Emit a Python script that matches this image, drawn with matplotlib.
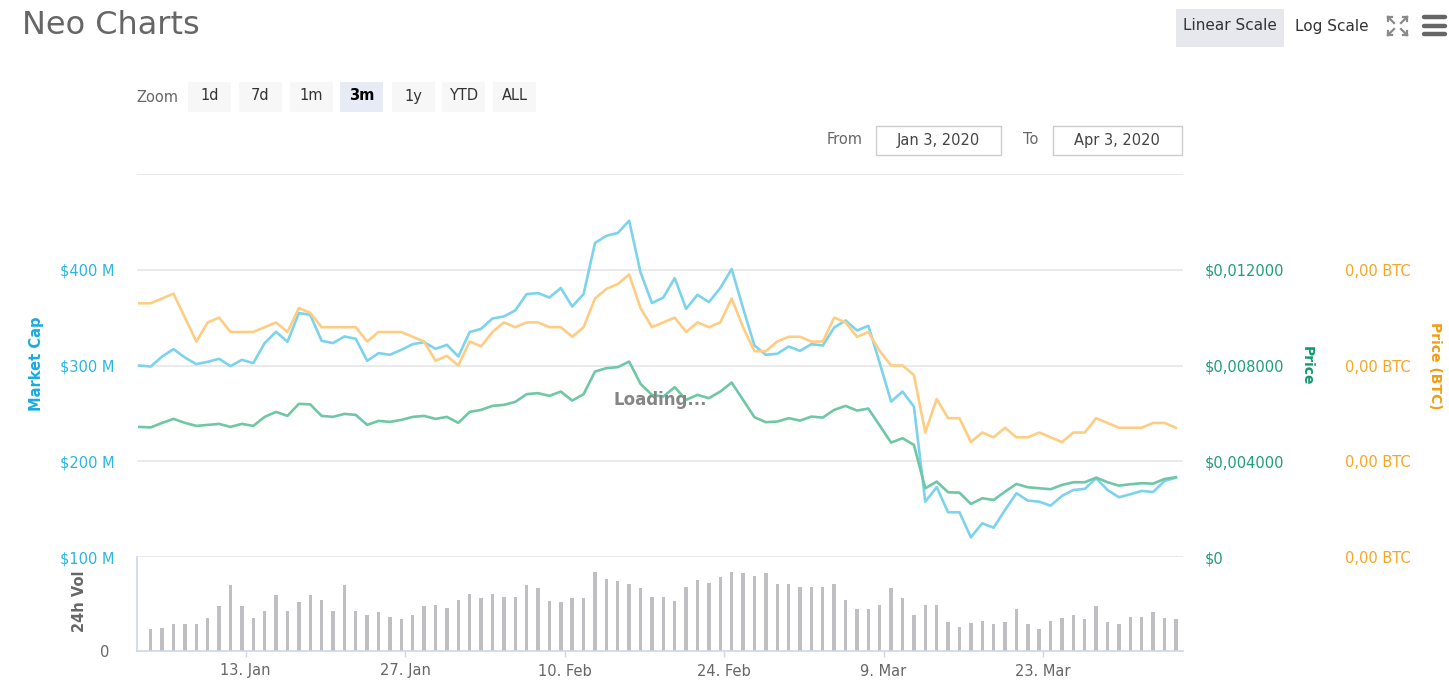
import numpy as np
import pandas as pd
import matplotlib
matplotlib.use("Agg")
import matplotlib.pyplot as plt
from matplotlib.patches import Rectangle

# ------------------------------------------------------------------
# data
# ------------------------------------------------------------------
dates = pd.date_range("2020-01-03 16:00", periods=92, freq="D")
vol_dates = dates[1:]

market_cap = [300.0, 298.9, 309.4, 317.1, 308.3, 301.4, 303.8, 307.0, 299.3, 305.9,
              302.5, 323.4, 335.2, 324.7, 354.7, 353.0, 325.8, 323.4, 330.3, 327.9,
              304.9, 312.9, 311.2, 316.4, 322.3, 324.4, 317.4, 321.6, 309.4, 334.9,
              338.3, 349.1, 351.2, 357.5, 374.6, 375.6, 371.0, 380.9, 361.6, 374.6,
              427.9, 435.5, 438.4, 451.2, 397.2, 365.2, 371.0, 391.3, 359.2, 373.9,
              366.2, 380.9, 400.7, 360.0, 320.9, 311.2, 312.2, 319.8, 315.3, 322.3,
              320.9, 339.7, 347.0, 336.6, 341.5, 302.5, 262.3, 272.8, 257.1, 157.8,
              172.9, 146.7, 146.7, 120.6, 135.2, 130.6, 149.1, 166.6, 158.9, 157.8,
              153.6, 163.8, 170.0, 171.1, 182.3, 170.0, 162.4, 165.5, 169.0, 167.9,
              179.4, 182.9]  # $ M

price_usd = [0.005435, 0.005414, 0.005603, 0.005770, 0.005603, 0.005477, 0.005519, 0.005561, 0.005435, 0.005561,
             0.005477, 0.005853, 0.006062, 0.005895, 0.006397, 0.006376, 0.005895, 0.005853, 0.005979, 0.005937,
             0.005519, 0.005686, 0.005644, 0.005728, 0.005853, 0.005895, 0.005770, 0.005853, 0.005603, 0.006062,
             0.006146, 0.006313, 0.006355, 0.006481, 0.006802, 0.006844, 0.006731, 0.006911, 0.006535, 0.006802,
             0.007747, 0.007889, 0.007931, 0.008165, 0.007233, 0.006773, 0.006702, 0.007095, 0.006564, 0.006773,
             0.006635, 0.006911, 0.007287, 0.006564, 0.005841, 0.005632, 0.005657, 0.005799, 0.005699, 0.005866,
             0.005824, 0.006146, 0.006313, 0.006117, 0.006200, 0.005490, 0.004779, 0.004963, 0.004683, 0.002872,
             0.003148, 0.002705, 0.002688, 0.002216, 0.002454, 0.002383, 0.002730, 0.003052, 0.002914, 0.002872,
             0.002831, 0.003010, 0.003123, 0.003123, 0.003315, 0.003123, 0.002981, 0.003040, 0.003081, 0.003065,
             0.003261, 0.003332]

price_btc = [0.00133, 0.00133, 0.00134, 0.00135, 0.00130, 0.00125, 0.00129, 0.00130, 0.00127, 0.00127,
             0.00127, 0.00128, 0.00129, 0.00127, 0.00132, 0.00131, 0.00128, 0.00128, 0.00128, 0.00128,
             0.00125, 0.00127, 0.00127, 0.00127, 0.00126, 0.00125, 0.00121, 0.00122, 0.00120, 0.00125,
             0.00124, 0.00127, 0.00129, 0.00128, 0.00129, 0.00129, 0.00128, 0.00128, 0.00126, 0.00128,
             0.00134, 0.00136, 0.00137, 0.00139, 0.00132, 0.00128, 0.00129, 0.00130, 0.00127, 0.00129,
             0.00128, 0.00129, 0.00134, 0.00128, 0.00123, 0.00123, 0.00125, 0.00126, 0.00126, 0.00125,
             0.00125, 0.00130, 0.00129, 0.00126, 0.00127, 0.00123, 0.00120, 0.00120, 0.00118, 0.00106,
             0.00113, 0.00109, 0.00109, 0.00104, 0.00106, 0.00105, 0.00107, 0.00105, 0.00105, 0.00106,
             0.00105, 0.00104, 0.00106, 0.00106, 0.00109, 0.00108, 0.00107, 0.00107, 0.00107, 0.00108,
             0.00108, 0.00107]

volume = [223, 233, 267, 267, 267, 334, 446, 659, 446, 334,
          405, 557, 405, 486, 557, 514, 405, 659, 405, 365,
          389, 345, 318, 365, 446, 459, 429, 514, 568, 527,
          568, 544, 544, 659, 628, 500, 486, 527, 527, 791,
          723, 696, 669, 628, 544, 544, 500, 642, 709, 682,
          736, 791, 780, 753, 780, 669, 669, 642, 642, 642,
          669, 514, 416, 416, 459, 628, 527, 365, 459, 459,
          291, 236, 277, 304, 267, 291, 416, 267, 223, 304,
          334, 365, 321, 446, 291, 267, 345, 345, 389, 334,
          321]  # $ M

mc_ticks = [100, 200, 300, 400, 500]
price_ticks = [0, 0.004, 0.008, 0.012]
btc_ticks = [0.0008, 0.0010, 0.0012, 0.0014]
x_ticks = pd.to_datetime(["2020-01-13", "2020-01-27", "2020-02-10",
                          "2020-02-24", "2020-03-09", "2020-03-23"])
zoom_buttons = ["1d", "7d", "1m", "3m", "1y", "YTD", "ALL"]

# ------------------------------------------------------------------
# figure / helpers (pixel -> figure coords)
# ------------------------------------------------------------------
W, H = 1449, 699
fig = plt.figure(figsize=(W / 100, H / 100), dpi=100)
fx = lambda x: x / W
fy = lambda y: 1 - y / H

BLUE, GREEN, ORANGE = "#7cd3eb", "#6fc7a5", "#fecd84"
GRID = "#e6e6e6"
AXIS = "#ccd6eb"
xlim = (pd.Timestamp("2020-01-03 11:00"), pd.Timestamp("2020-04-04 07:00"))

# main pane
ax = fig.add_axes([fx(137), fy(557), fx(1183) - fx(137), fy(174) - fy(557)])
ax.set_xlim(xlim)
ax.set_ylim(100, 500)
ax.set_yticks(mc_ticks)
ax.set_yticklabels([f"${v} M" if v < 500 else "" for v in mc_ticks])
ax.tick_params(axis="y", length=0, pad=16, labelcolor="#2ab5e2", labelsize=10.5)
ax.set_xticks([])
ax.grid(axis="y", color=GRID, lw=1.2)
ax.set_axisbelow(True)
for s in ax.spines.values():
    s.set_visible(False)
ax.plot(dates, market_cap, color=BLUE, lw=1.9, solid_joinstyle="round")

ax_p = ax.twinx()
ax_p.set_ylim(0, 0.016)
ax_p.set_yticks(price_ticks)
ax_p.set_yticklabels(["$0" if v == 0 else "$" + f"{v:.6f}".replace(".", ",") for v in price_ticks])
ax_p.tick_params(axis="y", length=0, pad=16, labelcolor="#1e9e78", labelsize=10.5)
ax_p.plot(dates, price_usd, color=GREEN, lw=1.9, solid_joinstyle="round")

ax_b = ax.twinx()
ax_b.set_ylim(0.0008, 0.0016)
ax_b.set_yticks(btc_ticks)
ax_b.set_yticklabels([f"{v:.2f} BTC".replace(".", ",") for v in btc_ticks])
ax_b.tick_params(axis="y", length=0, pad=117, labelcolor="#f5a623", labelsize=10.5)
ax_b.plot(dates, price_btc, color=ORANGE, lw=1.9, solid_joinstyle="round")

for a in (ax_p, ax_b):
    a.set_xlim(xlim)
    a.set_xticks([])
    for s in a.spines.values():
        s.set_visible(False)

# volume pane
axv = fig.add_axes([fx(137), fy(651), fx(1183) - fx(137), fy(557) - fy(651)])
axv.set_xlim(xlim)
axv.set_ylim(0, 940)
axv.bar(vol_dates, volume, width=0.3, color="#bfbfc3")
axv.set_yticks([0])
axv.set_yticklabels(["0"])
axv.tick_params(axis="y", length=0, pad=20, labelcolor="#666666", labelsize=10.5)
axv.set_xticks(x_ticks)
axv.set_xticklabels([f"{d.day}. {d.strftime('%b')}" for d in x_ticks])
axv.tick_params(axis="x", length=4, width=1, color=AXIS, pad=5,
                labelcolor="#666666", labelsize=10.5)
for side in ("top", "right"):
    axv.spines[side].set_visible(False)
for side in ("left", "bottom"):
    axv.spines[side].set_color(AXIS)
    axv.spines[side].set_linewidth(1.2)

# axis titles
fig.text(fx(37), fy(364), "Market Cap", rotation=90, ha="center", va="center",
         fontsize=10.5, fontweight="bold", color="#1aabe0")
fig.text(fx(80), fy(601), "24h Vol", rotation=90, ha="center", va="center",
         fontsize=10.5, fontweight="bold", color="#666666")
fig.text(fx(1307), fy(366), "Price", rotation=270, ha="center", va="center",
         fontsize=10, fontweight="bold", color="#0c9a6c")
fig.text(fx(1435), fy(366), "Price (BTC)", rotation=270, ha="center", va="center",
         fontsize=10, fontweight="bold", color="#f39c12")

fig.text(fx(660), fy(400), "Loading...", ha="center", va="center",
         fontsize=12, fontweight="bold", color="#858585", zorder=10)

# ------------------------------------------------------------------
# top controls
# ------------------------------------------------------------------
def box(x0, y0, x1, y1, fc, ec="none", lw=0):
    fig.patches.append(Rectangle((fx(x0), fy(y1)), fx(x1) - fx(x0), fy(y0) - fy(y1),
                                 transform=fig.transFigure, fc=fc, ec=ec, lw=lw))

fig.text(fx(22), fy(25), "Neo Charts", ha="left", va="center", fontsize=23, color="#666666")

box(1176, 9, 1284, 47, "#e6e8ee")
fig.text(fx(1230), fy(26), "Linear Scale", ha="center", va="center", fontsize=11, color="#333333")
fig.text(fx(1332), fy(26), "Log Scale", ha="center", va="center", fontsize=11, color="#333333")

# fullscreen icon
ic = "#8a8a8a"
cx0, cx1, cy0, cy1 = 1388, 1407, 17, 35
for (x, y, dx, dy) in [(cx0, cy0, 1, 1), (cx1, cy0, -1, 1), (cx0, cy1, 1, -1), (cx1, cy1, -1, -1)]:
    fig.add_artist(plt.Line2D([fx(x), fx(x + 6 * dx)], [fy(y), fy(y + 6 * dy)], color=ic, lw=1.6))
    fig.add_artist(plt.Line2D([fx(x), fx(x + 4 * dx)], [fy(y), fy(y)], color=ic, lw=1.6))
    fig.add_artist(plt.Line2D([fx(x), fx(x)], [fy(y), fy(y + 4 * dy)], color=ic, lw=1.6))
# menu icon
for yb in (17, 25.5, 34):
    fig.add_artist(plt.Line2D([fx(1424), fx(1445)], [fy(yb), fy(yb)], color="#666666",
                              lw=3.2, solid_capstyle="round"))

# zoom buttons
fig.text(fx(157), fy(97), "Zoom", ha="center", va="center", fontsize=10.5, color="#666666")
btn_x = [188, 239, 290, 340, 392, 442, 493]
for x0, lab in zip(btn_x, zoom_buttons):
    sel = lab == "3m"
    box(x0, 82, x0 + 43, 112, "#e6ebf5" if sel else "#f7f7f8")
    fig.text(fx(x0 + 21.5), fy(96), lab, ha="center", va="center", fontsize=10.5,
             color="#000000" if sel else "#333333", fontweight="bold" if sel else "normal")

# date range inputs
fig.text(fx(845), fy(140), "From", ha="center", va="center", fontsize=10.5, color="#666666")
box(876, 126, 1001, 155, "white", "#cccccc", 1)
fig.text(fx(938), fy(140), "Jan 3, 2020", ha="center", va="center", fontsize=10.5, color="#444444")
fig.text(fx(1031), fy(140), "To", ha="center", va="center", fontsize=10.5, color="#666666")
box(1053, 126, 1182, 155, "white", "#cccccc", 1)
fig.text(fx(1117), fy(140), "Apr 3, 2020", ha="center", va="center", fontsize=10.5, color="#444444")

plt.savefig("out.png", dpi=100)
plt.close()
